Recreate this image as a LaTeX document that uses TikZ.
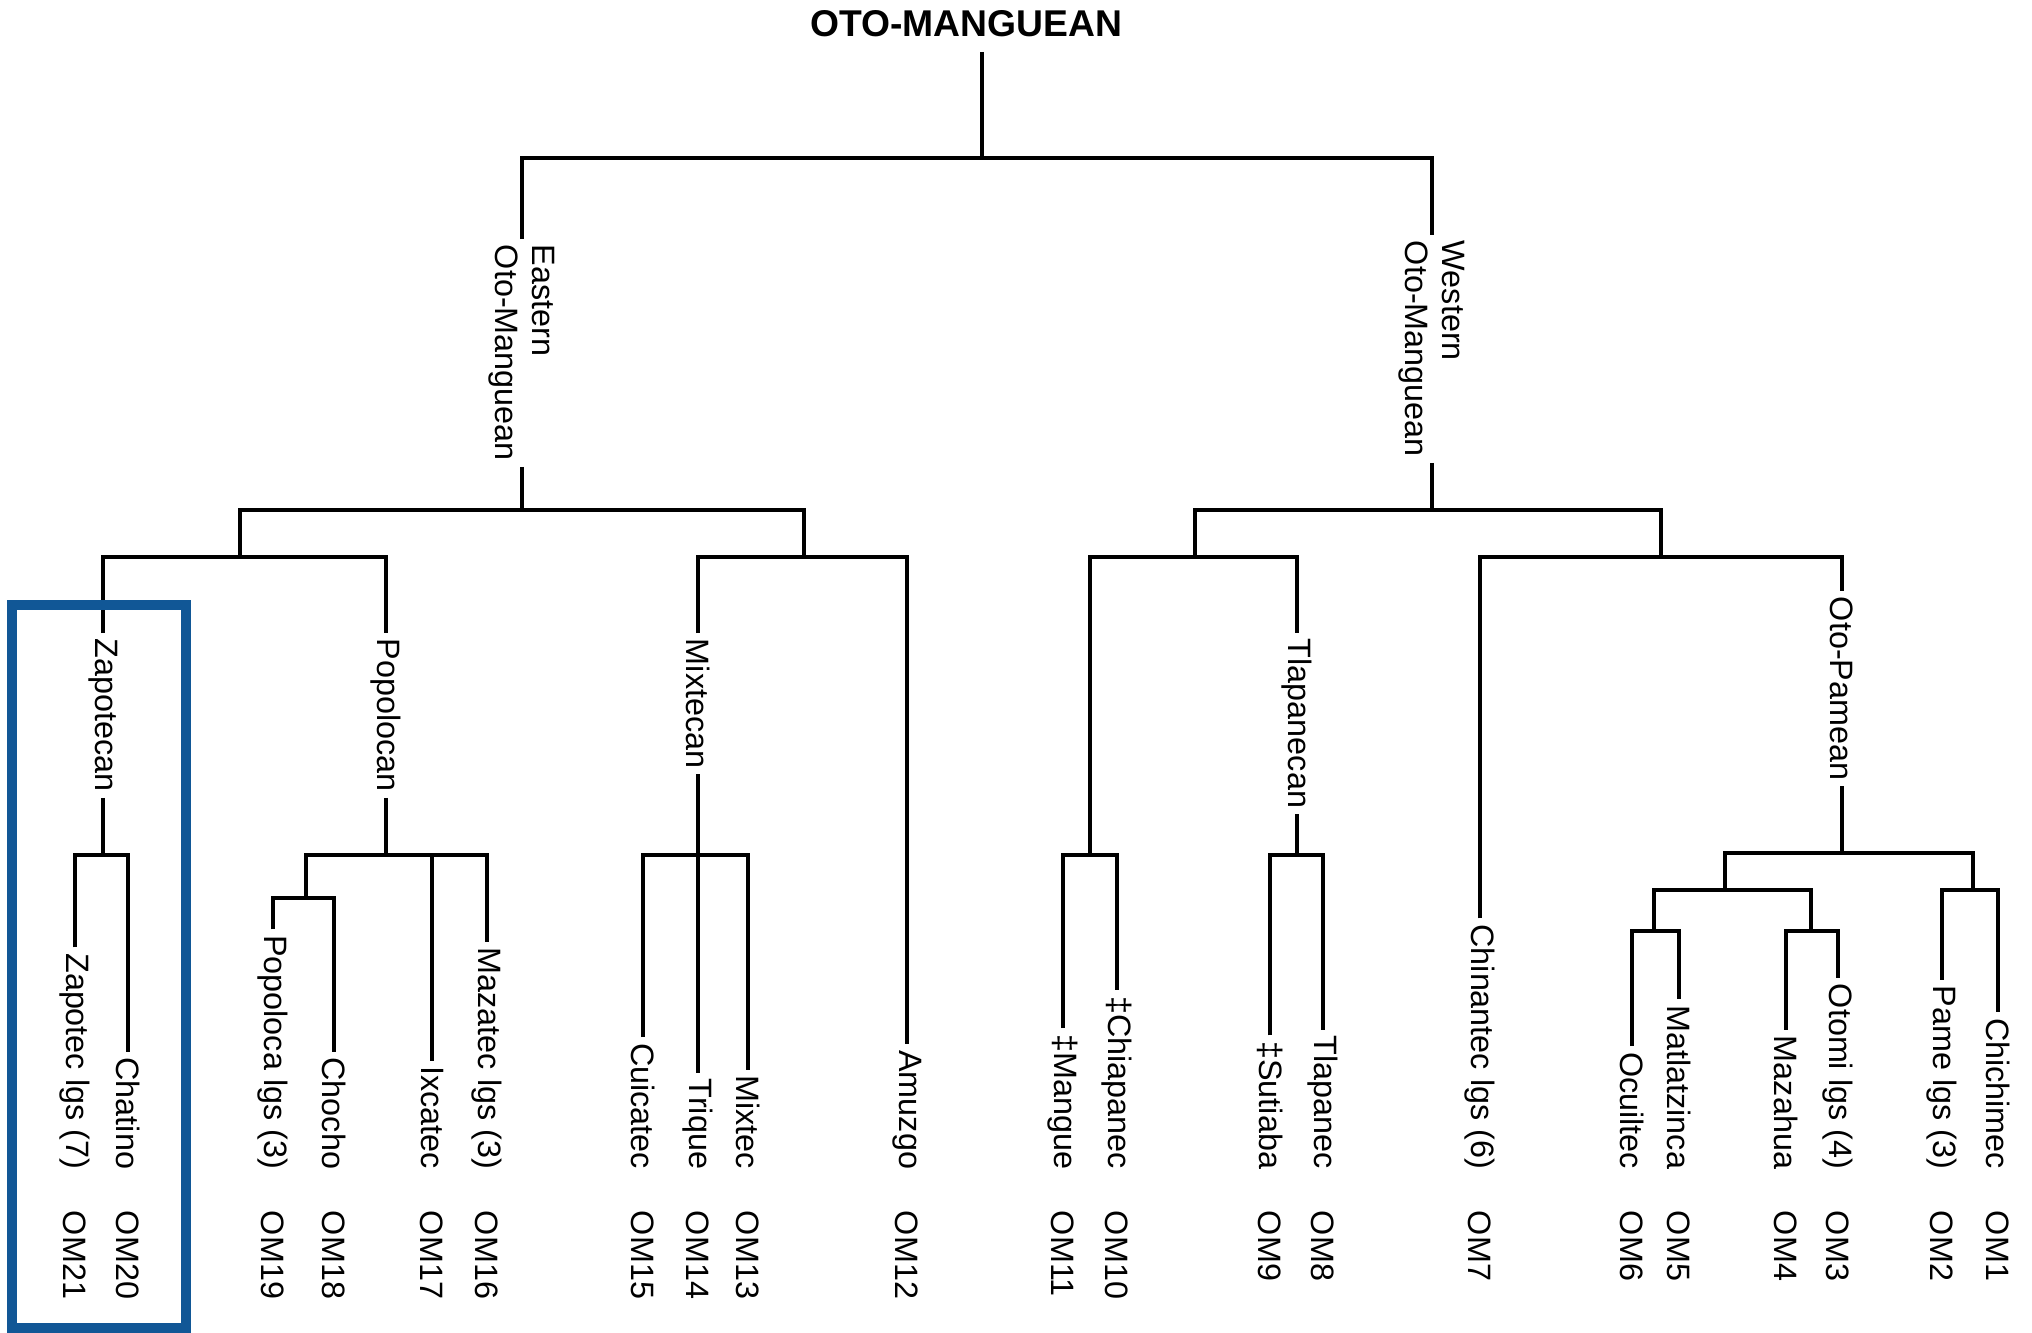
\documentclass[tikz,border=0pt]{standalone}
\usepackage{fontspec}
\setmainfont{Liberation Sans}
\usetikzlibrary{positioning}
\definecolor{boxblue}{RGB}{17,87,150}

\begin{document}
\begin{tikzpicture}[
  x=0.01cm,y=-0.01cm,
  link/.style={draw=black,line width=0.95pt},
  clade/.style={rotate=-90,anchor=west,inner sep=1.5pt,align=left,font=\fontsize{9.2}{10.4}\selectfont},
  lang/.style={rotate=-90,anchor=east,inner sep=1.5pt,font=\fontsize{9.2}{10.4}\selectfont},
  code/.style={rotate=-90,anchor=west,inner sep=1.5pt,font=\fontsize{9.2}{10.4}\selectfont}
]
  \useasboundingbox (0,0) rectangle (2032,1333);

  \node[font=\bfseries\fontsize{10.6}{12}\selectfont,inner xsep=0pt,inner ysep=4pt] (title) at (966,24) {OTO-MANGUEAN};
  \coordinate (om) at (982,158);

  \node[clade] (eom) at (522,239) {Eastern\\Oto-Manguean};
  \node[clade] (wom) at (1432,235) {Western\\Oto-Manguean};
  \coordinate (ej) at (522,510);
  \coordinate (wj) at (1432,510);

  \coordinate (zpj) at (240,557);
  \coordinate (maj) at (804,557);
  \coordinate (tsj) at (1195,557);
  \coordinate (cpj) at (1661,557);

  \node[clade] (zapn) at (103,633) {Zapotecan};
  \node[clade] (popn) at (386,633) {Popolocan};
  \node[clade] (mixn) at (698,633) {Mixtecan};
  \node[clade] (tla) at (1297,633) {Tlapanecan};
  \node[clade] (opm) at (1842,591) {Oto-Pamean};

  \coordinate (zapj) at (103,855);
  \coordinate (popj) at (386,855);
  \coordinate (popsub) at (306,898);
  \coordinate (mixj) at (698,855);
  \coordinate (chij) at (1090,855);
  \coordinate (tlaj) at (1297,855);
  \coordinate (opj) at (1842,853);
  \coordinate (opa) at (1725,890);
  \coordinate (opb) at (1973,890);
  \coordinate (opa1) at (1654,931);
  \coordinate (opa2) at (1811,931);

  \node[lang] (zl) at (75,1175) {Zapotec lgs (7)};
  \node[lang] (cha) at (128,1175) {Chatino};
  \node[lang] (ppl) at (273,1175) {Popoloca lgs (3)};
  \node[lang] (cho) at (334,1175) {Chocho};
  \node[lang] (ixc) at (432,1175) {Ixcatec};
  \node[lang] (mzt) at (487,1175) {Mazatec lgs (3)};
  \node[lang] (cui) at (643,1175) {Cuicatec};
  \node[lang] (tri) at (698,1175) {Trique};
  \node[lang] (mxt) at (748,1175) {Mixtec};
  \node[lang] (amu) at (907,1175) {Amuzgo};
  \node[lang] (man) at (1063,1175) {‡Mangue};
  \node[lang] (chp) at (1117,1175) {‡Chiapanec};
  \node[lang] (sut) at (1270,1175) {‡Sutiaba};
  \node[lang] (tlp) at (1323,1175) {Tlapanec};
  \node[lang] (chin) at (1480,1175) {Chinantec lgs (6)};
  \node[lang] (ocu) at (1632,1175) {Ocuiltec};
  \node[lang] (mat) at (1679,1175) {Matlatzinca};
  \node[lang] (maz) at (1786,1175) {Mazahua};
  \node[lang] (oto) at (1838,1175) {Otomi lgs (4)};
  \node[lang] (pam) at (1942,1175) {Pame lgs (3)};
  \node[lang] (chm) at (1998,1175) {Chichimec};

  \node[code] (c21) at (75,1205) {OM21};
  \node[code] (c20) at (128,1205) {OM20};
  \node[code] (c19) at (273,1205) {OM19};
  \node[code] (c18) at (334,1205) {OM18};
  \node[code] (c17) at (432,1205) {OM17};
  \node[code] (c16) at (487,1205) {OM16};
  \node[code] (c15) at (643,1205) {OM15};
  \node[code] (c14) at (698,1205) {OM14};
  \node[code] (c13) at (748,1205) {OM13};
  \node[code] (c12) at (907,1205) {OM12};
  \node[code] (c11) at (1063,1205) {OM11};
  \node[code] (c10) at (1117,1205) {OM10};
  \node[code] (c9) at (1270,1205) {OM9};
  \node[code] (c8) at (1323,1205) {OM8};
  \node[code] (c7) at (1480,1205) {OM7};
  \node[code] (c6) at (1632,1205) {OM6};
  \node[code] (c5) at (1679,1205) {OM5};
  \node[code] (c4) at (1786,1205) {OM4};
  \node[code] (c3) at (1838,1205) {OM3};
  \node[code] (c2) at (1942,1205) {OM2};
  \node[code] (c1) at (1998,1205) {OM1};

  \draw[link] (title.south -| om) -- (om);
  \draw[link] (eom.west) |- (om) -| (wom.west);
  \draw[link] (eom.east) -- (ej);
  \draw[link] (wom.east) -- (wj);

  \draw[link] (zpj) |- (ej) -| (maj);
  \draw[link] (zapn.west) |- (zpj) -| (popn.west);
  \draw[link] (mixn.west) |- (maj) -| (amu.west);

  \draw[link] (zapn.east) -- (zapj);
  \draw[link] (zl.west) |- (zapj) -| (cha.west);
  \draw[link] (popn.east) -- (popj);
  \draw[link] (popsub) |- (popj) -| (mzt.west);
  \draw[link] (ixc.west) -- (ixc.west |- popj);
  \draw[link] (ppl.west) |- (popsub) -| (cho.west);
  \draw[link] (mixn.east) -- (mixj);
  \draw[link] (cui.west) |- (mixj) -| (mxt.west);
  \draw[link] (mixj) -- (tri.west);

  \draw[link] (tsj) |- (wj) -| (cpj);
  \draw[link] (chij) |- (tsj) -| (tla.west);
  \draw[link] (chin.west) |- (cpj) -| (opm.west);
  \draw[link] (man.west) |- (chij) -| (chp.west);
  \draw[link] (tla.east) -- (tlaj);
  \draw[link] (sut.west) |- (tlaj) -| (tlp.west);
  \draw[link] (opm.east) -- (opj);
  \draw[link] (opa) |- (opj) -| (opb);
  \draw[link] (opa1) |- (opa) -| (opa2);
  \draw[link] (ocu.west) |- (opa1) -| (mat.west);
  \draw[link] (maz.west) |- (opa2) -| (oto.west);
  \draw[link] (pam.west) |- (opb) -| (chm.west);

  \draw[boxblue,line width=2.6pt] (12,605) rectangle (186,1328);
\end{tikzpicture}
\end{document}
